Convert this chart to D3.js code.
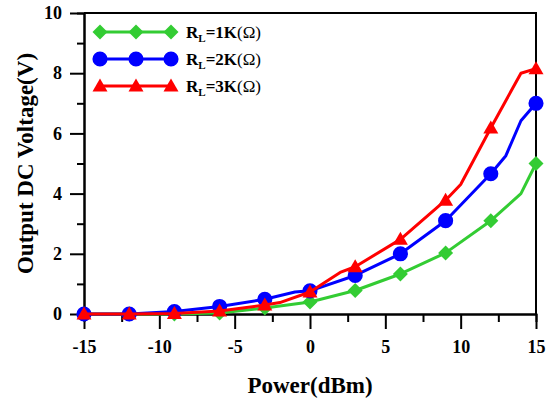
<!DOCTYPE html>
<html>
<head>
<meta charset="utf-8">
<script src="https://cdn.jsdelivr.net/npm/d3@7"></script>
<style>
	body { margin: 0; background: #fff; }
	svg { display: block; }
	text { font-family: "Liberation Serif", "Times New Roman", serif; font-weight: bold; fill: #000; }
</style>
</head>
<body>
<div id="chart"></div>
<script>
// marker positions (dBm) and the value at each one
var markerPower = [-15, -12, -9, -6, -3, 0, 3, 6, 9, 12, 15];
var volt1K = [0, 0, 0, 0.03, 0.2, 0.4, 0.78, 1.33, 2.03, 3.1, 5.0];
var volt2K = [0, 0, 0.08, 0.25, 0.49, 0.77, 1.28, 2.0, 3.1, 4.66, 7.0];
var volt3K = [0, 0, 0.02, 0.1, 0.3, 0.73, 1.57, 2.48, 3.78, 6.18, 8.15];
// extra line points without a marker: [power, volt]
var extra1K = [[14, 4.0]];
var extra2K = [[-1, 0.73], [13, 5.26], [14, 6.42]];
var extra3K = [[-2, 0.38], [2, 1.38], [10, 4.3], [14, 8.0]];

var seriesNames = ["1K", "2K", "3K"];
var seriesColors = ["#33cc33", "#0000ff", "#ff0000"];
var seriesShapes = ["diamond", "circle", "triangle"];

var xMajor = [-15, -10, -5, 0, 5, 10, 15];
var xMinor = [-12.5, -7.5, -2.5, 2.5, 7.5, 12.5];
var yMajor = [0, 2, 4, 6, 8, 10];
var yMinor = [1, 3, 5, 7, 9];

var width = 546, height = 402;
var margin = {left: 84, top: 13, right: 10, bottom: 88};
var plotW = 536 - margin.left, plotH = 314 - margin.top;

var svg = d3.select("#chart").append("svg")
	.attr("width", width)
	.attr("height", height);

var x = d3.scaleLinear().domain([-15, 15]).range([0, plotW]);
var y = d3.scaleLinear().domain([0, 10]).range([plotH, 0]);

var g = svg.append("g").attr("transform", "translate(" + margin.left + "," + margin.top + ")");

// frame (top and right)
g.append("path")
	.attr("d", "M0,0H" + plotW + "V" + plotH)
	.attr("fill", "none").attr("stroke", "#000").attr("stroke-width", 2);

function styleAxis(sel) {
	sel.select(".domain").attr("stroke-width", 2);
	sel.selectAll(".tick line").attr("stroke-width", 2);
	sel.selectAll("text").attr("font-size", 18).attr("font-family", null);
}

g.append("g").attr("transform", "translate(0," + plotH + ")")
	.call(d3.axisBottom(x).tickValues(xMinor).tickSize(8).tickFormat(""))
	.call(styleAxis);
g.append("g").attr("transform", "translate(0," + plotH + ")")
	.call(d3.axisBottom(x).tickValues(xMajor).tickSizeInner(15).tickSizeOuter(0).tickPadding(11).tickFormat(d3.format("d")))
	.call(styleAxis);
g.append("g")
	.call(d3.axisLeft(y).tickValues(yMinor).tickSize(7).tickFormat(""))
	.call(styleAxis);
g.append("g")
	.call(d3.axisLeft(y).tickValues(yMajor).tickSizeInner(14).tickSizeOuter(0).tickPadding(8).tickFormat(d3.format("d")))
	.call(styleAxis);
g.selectAll(".tick text").text(function(){ return this.textContent.replace("\u2212", "-"); });

// axis titles
svg.append("text")
	.attr("x", margin.left + plotW / 2).attr("y", 393)
	.attr("text-anchor", "middle").attr("font-size", 23)
	.text("Power(dBm)");
svg.append("text")
	.attr("transform", "translate(33," + (margin.top + plotH / 2) + ") rotate(-90)")
	.attr("text-anchor", "middle").attr("font-size", 23)
	.text("Output DC Voltage(V)");

function markerPath(shape) {
	if (shape === "circle") return d3.symbol(d3.symbolCircle, 180)();
	if (shape === "diamond") return "M0,-7.5L7.5,0L0,7.5L-7.5,0Z";
	return "M0,-7.5L7.5,5.5L-7.5,5.5Z";
}

var allVals = [volt1K, volt2K, volt3K];
var allExtra = [extra1K, extra2K, extra3K];

var line = d3.line().x(function(d){ return x(d[0]); }).y(function(d){ return y(d[1]); });

allVals.forEach(function(vals, i) {
	var pts = markerPower.map(function(p, j){ return [p, vals[j]]; });
	var linePts = pts.concat(allExtra[i]).sort(function(a, b){ return a[0] - b[0]; });
	g.append("path")
		.datum(linePts)
		.attr("d", line)
		.attr("fill", "none")
		.attr("stroke", seriesColors[i])
		.attr("stroke-width", 3)
		.attr("stroke-linejoin", "round");
	g.selectAll(".m" + i)
		.data(pts)
		.enter().append("path")
		.attr("class", "m" + i)
		.attr("transform", function(d){ return "translate(" + x(d[0]) + "," + y(d[1]) + ")"; })
		.attr("d", markerPath(seriesShapes[i]))
		.attr("fill", seriesColors[i]);
});

// legend
var legend = svg.append("g");
seriesNames.forEach(function(name, i) {
	var ly = 32 + i * 27;
	legend.append("line")
		.attr("x1", 100).attr("x2", 171).attr("y1", ly).attr("y2", ly)
		.attr("stroke", seriesColors[i]).attr("stroke-width", 3);
	[100, 136, 171].forEach(function(mx) {
		legend.append("path")
			.attr("transform", "translate(" + mx + "," + ly + ")")
			.attr("d", markerPath(seriesShapes[i]))
			.attr("fill", seriesColors[i]);
	});
	var t = legend.append("text").attr("x", 186).attr("y", ly + 6).attr("font-size", 17);
	t.append("tspan").text("R");
	t.append("tspan").attr("font-size", 11).attr("dy", 4).text("L");
	t.append("tspan").attr("dy", -4).text("=" + name);
	t.append("tspan").attr("font-weight", "normal").text("(\u03A9)");
});
</script>
</body>
</html>
